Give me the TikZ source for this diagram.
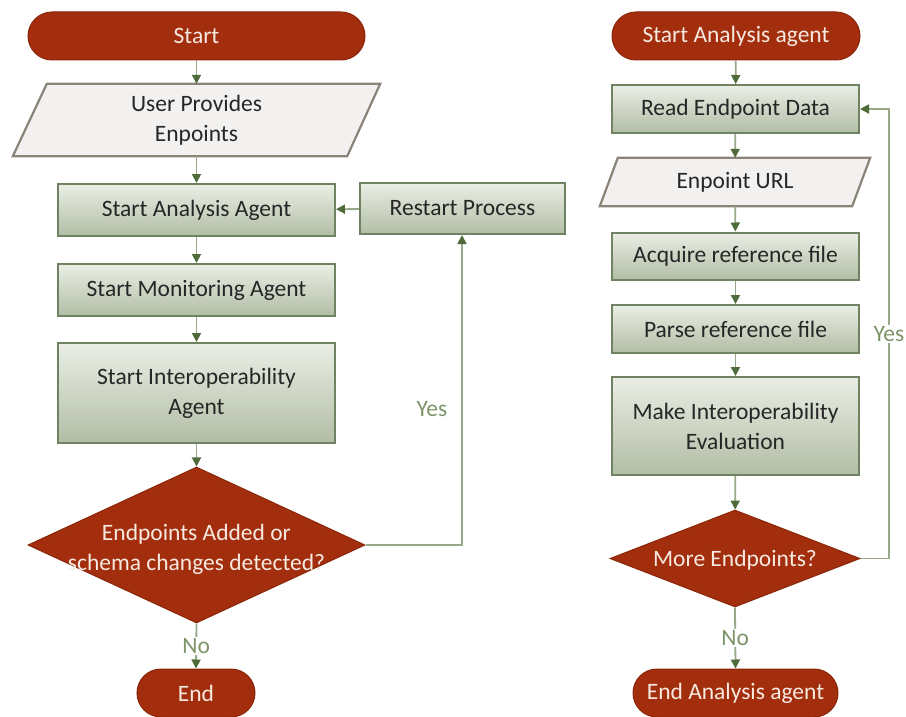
\documentclass[tikz,border=0pt]{standalone}
\usepackage{fontspec}
\setmainfont{Carlito}
\usetikzlibrary{shapes.geometric,arrows.meta,backgrounds}

\definecolor{termred}{HTML}{A32E0E}
\definecolor{termedge}{HTML}{8A2608}
\definecolor{termtext}{HTML}{F6E9E0}
\definecolor{boxtop}{HTML}{EAEEE5}
\definecolor{boxbot}{HTML}{B2BDA5}
\definecolor{boxedge}{HTML}{6F8261}
\definecolor{iofill}{HTML}{F3F1EF}
\definecolor{ioedge}{HTML}{8A8478}
\definecolor{linkcol}{HTML}{98A88A}
\definecolor{tipcol}{HTML}{506B3A}
\definecolor{labcol}{HTML}{7C9467}
\definecolor{txt}{HTML}{262626}

\tikzset{
  every node/.style={font=\fontsize{23.5}{30}\selectfont, inner sep=0pt, align=center},
  terminal/.style={rectangle, rounded corners=24pt, fill=termred, draw=termedge,
    line width=1pt, text=termtext, minimum height=48pt},
  process/.style={rectangle, top color=boxtop, bottom color=boxbot, draw=boxedge,
    line width=2pt, text=txt},
  iobox/.style={rectangle, text=txt},
  iooutline/.style={fill=iofill, draw=ioedge, line width=2.2pt, line join=miter},
  decision/.style={diamond, fill=termred, draw=termedge, line width=1pt, inner sep=0pt},
  dectext/.style={text=termtext},
  link/.style={draw=linkcol, line width=1.8pt,
    -{Triangle[length=9pt, width=9pt, color=tipcol]}},
  plainlink/.style={draw=linkcol, line width=1.8pt},
  answer/.style={text=labcol}
}

\begin{document}
\begin{tikzpicture}[x=1pt, y=-1pt]
  \useasboundingbox (0,0) rectangle (906,717);

  % ---------- main workflow ----------
  \node[terminal, minimum width=337pt] (start) at (196.5,36) {Start};
  \node[iobox, minimum width=367pt, minimum height=72pt] (user) at (196.5,120)
    {User Provides\\Enpoints};
  \node[process, minimum width=277pt, minimum height=52pt] (analysis) at (196.5,210)
    {Start Analysis Agent};
  \node[process, minimum width=205pt, minimum height=51pt] (restart) at (462.5,208.5)
    {Restart Process};
  \node[process, minimum width=277pt, minimum height=52pt] (monitor) at (196.5,290)
    {Start Monitoring Agent};
  \node[process, minimum width=277pt, minimum height=100pt] (interop) at (196.5,393)
    {Start Interoperability\\Agent};
  \node[decision, minimum width=337pt, minimum height=156pt] (check) at (196.5,545) {};
  \node[dectext] (checktext) at (196.5,549) {Endpoints Added or\\schema changes detected?};
  \node[terminal, minimum width=118pt] (end) at (196,693) {End};
  \coordinate (yesbend) at (462,545);

  % ---------- analysis agent workflow ----------
  \node[terminal, minimum width=248pt] (astart) at (736,36) {Start Analysis agent};
  \node[process, minimum width=247pt, minimum height=48pt] (read) at (735.5,109)
    {Read Endpoint Data};
  \node[iobox, minimum width=270pt, minimum height=48pt] (url) at (735,182)
    {Enpoint URL};
  \node[process, minimum width=247pt, minimum height=47pt] (acquire) at (735.5,256)
    {Acquire reference file};
  \node[process, minimum width=247pt, minimum height=48pt] (parse) at (735.5,329)
    {Parse reference file};
  \node[process, minimum width=247pt, minimum height=98pt] (evaluate) at (735.5,426)
    {Make Interoperability\\Evaluation};
  \node[decision, minimum width=250pt, minimum height=97pt] (more) at (735,558.5) {};
  \node[dectext] (moretext) at (735,560) {More Endpoints?};
  \node[terminal, minimum width=205pt] (aend) at (735.5,693) {End Analysis agent};
  \coordinate (loopdown) at (889,558.5);
  \coordinate (loopup) at (889,109);

  % slanted outlines of the input nodes
  \begin{pgfonlayer}{background}
    \path[iooutline] (user.south west) -- ([xshift=34pt]user.north west)
      -- (user.north east) -- ([xshift=-33pt]user.south east) -- cycle;
    \path[iooutline] (url.south west) -- ([xshift=18pt]url.north west)
      -- (url.north east) -- ([xshift=-18pt]url.south east) -- cycle;
  \end{pgfonlayer}

  % ---------- connectors, main workflow ----------
  \draw[link] (start) -- (user);
  \draw[link] (user) -- (analysis);
  \draw[link] (analysis) -- (monitor);
  \draw[link] (monitor) -- (interop);
  \draw[link] (interop) -- (check);
  \draw[link] (restart) -- (analysis);
  \draw[link] (check.east) -- (yesbend) -- (restart.south -| yesbend);
  \node[answer] (yes1) at (432,409) {Yes};
  \draw[link] (check.south) -- (end.north)
    node[pos=0.5, fill=white, inner sep=1pt, answer] (no1) {No};

  % ---------- connectors, analysis agent workflow ----------
  \draw[link] (astart) -- (read);
  \draw[link] (read) -- (url);
  \draw[link] (url) -- (acquire);
  \draw[link] (acquire) -- (parse);
  \draw[link] (parse) -- (evaluate);
  \draw[link] (evaluate) -- (more);
  \draw[link] (more.east) -- (loopdown) -- (loopup) -- (read.east);
  \node[answer, fill=white, inner sep=1pt] (yes2) at (889,334) {Yes};
  \draw[link] (more.south) -- (aend.north)
    node[pos=0.5, fill=white, inner sep=1pt, answer] (no2) {No};
\end{tikzpicture}
\end{document}
